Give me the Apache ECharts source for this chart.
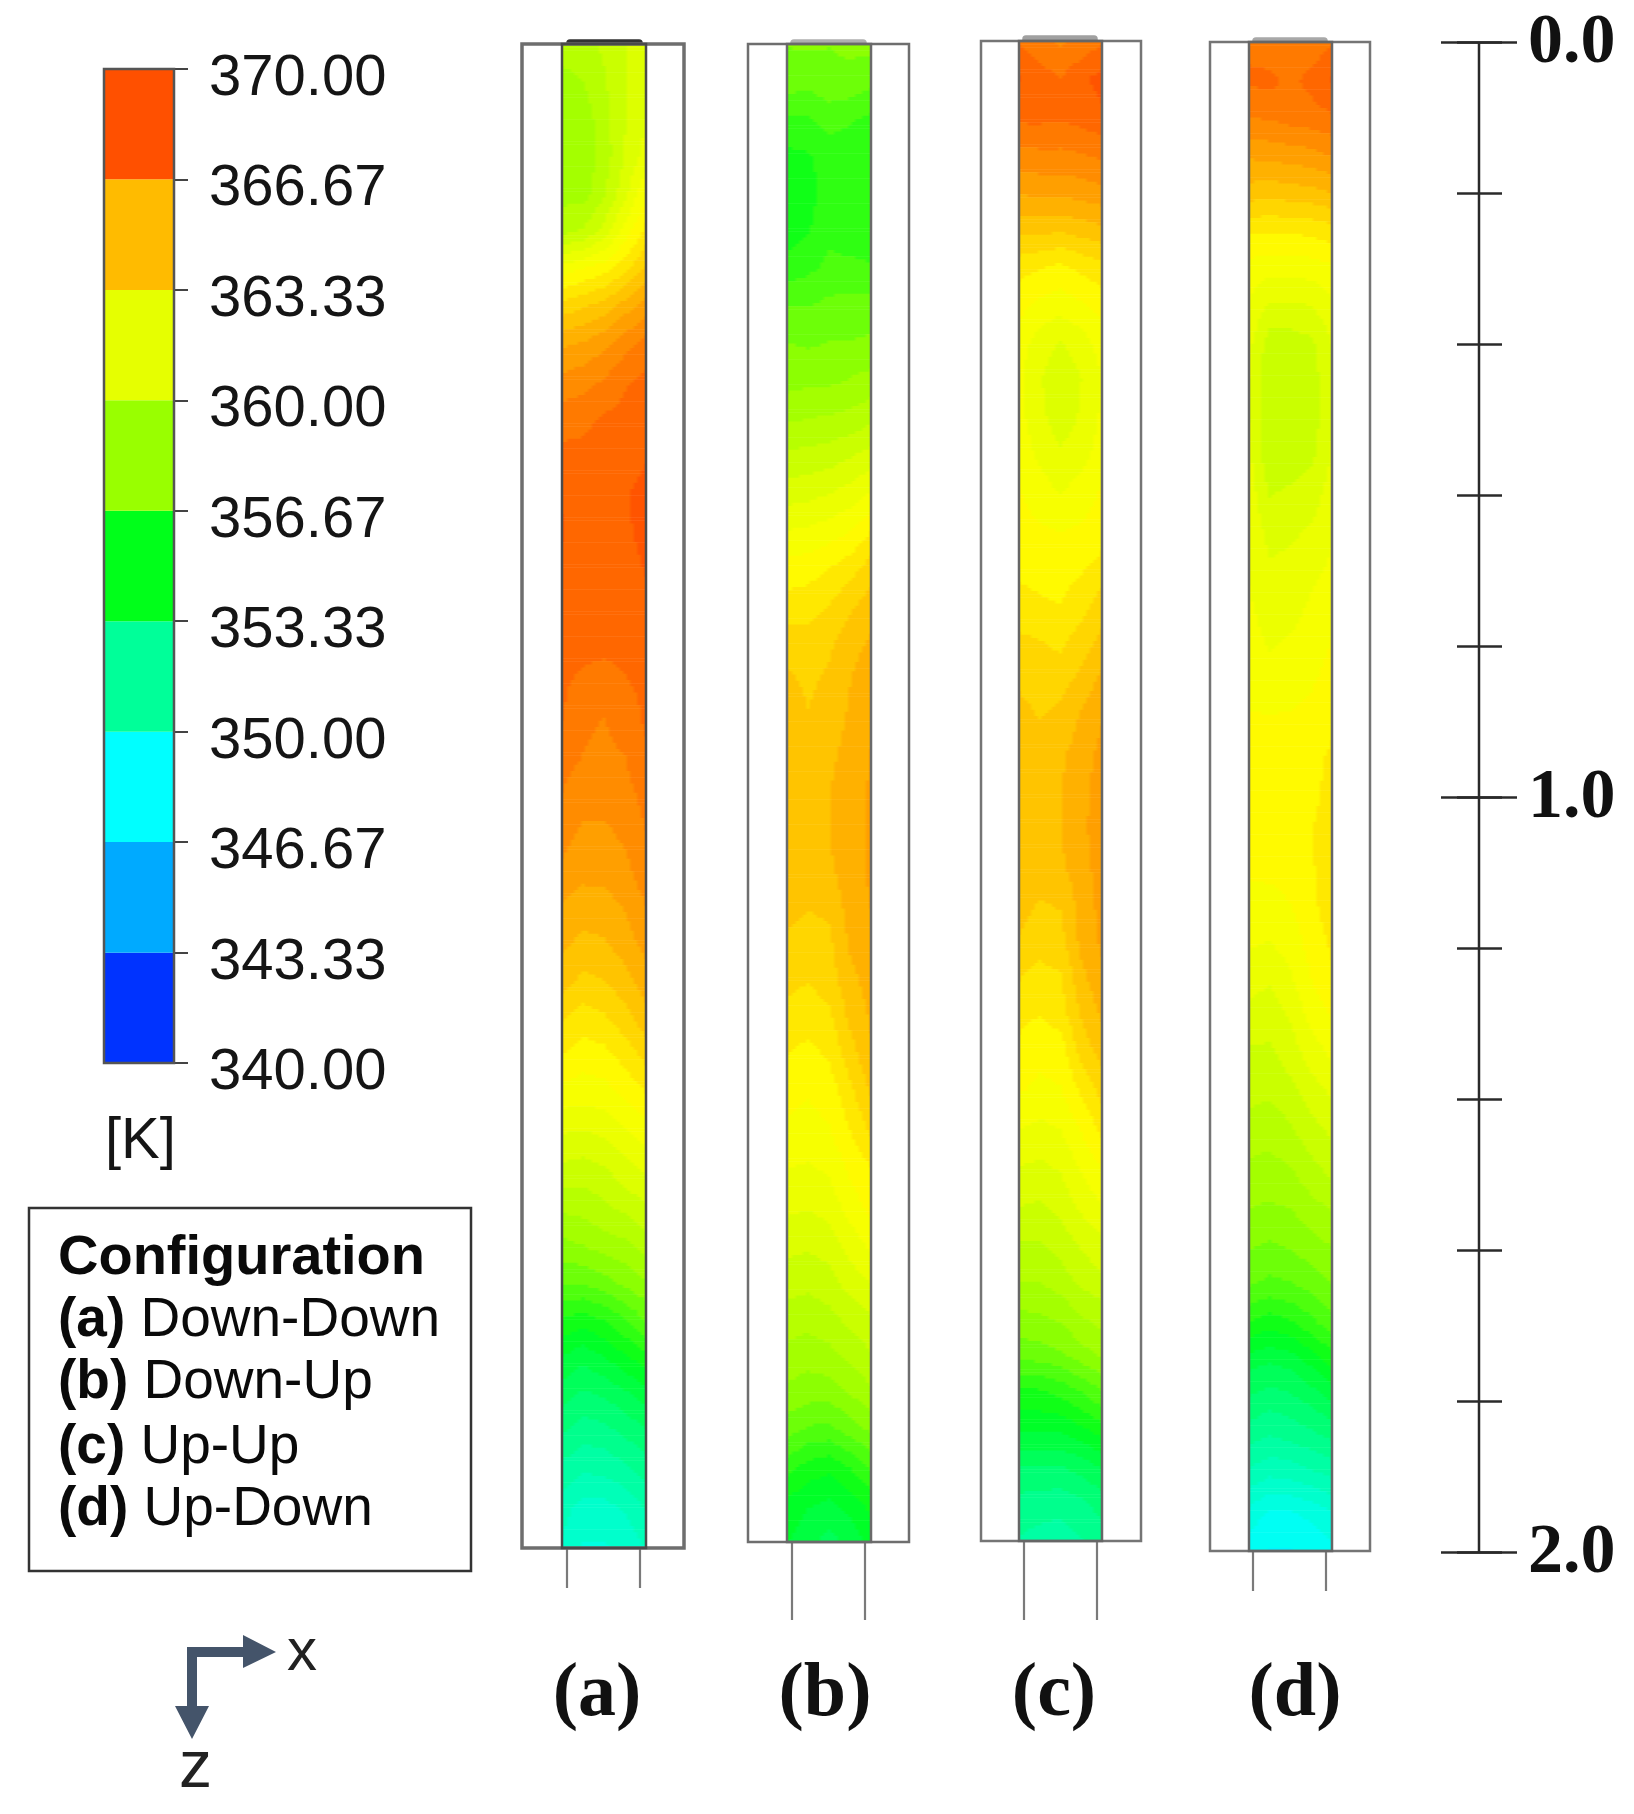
<!DOCTYPE html>
<html><head><meta charset="utf-8">
<style>html,body{margin:0;padding:0;background:#fff}#c{width:1634px;height:1814px}</style>
<script src="https://cdn.jsdelivr.net/npm/echarts@6/dist/echarts.min.js"></script>
</head><body><div id="c"></div>
<script>
// ---------- data ----------
const legendLevels = [340,343.33,346.67,350,353.33,356.67,360,363.33,366.67,370];
const legendColors = ['#0033ff','#00aaff','#00ffff','#00ff99','#00ff1a','#99ff00','#e6ff00','#ffbb00','#ff5000'];
const rampT = [340,345,348.3,351.7,355,358.3,361,362.5,365,368.3,370];
const rampC = ['#0033ff','#00aaff','#00ffff','#00ff99','#00ff1a','#99ff00','#e6ff00','#ffff00','#ffbb00','#ff5f00','#ff3000'];
const contourStep = 0.667;
const rowZ = [0,.05,.1,.15,.2,.25,.3,.35,.4,.45,.5,.55,.6,.65,.7,.75,.8,.85,.9,.95,1,1.05,1.1,1.15,1.2,1.25,1.3,1.35,1.4,1.45,1.5,1.55,1.6,1.65,1.7,1.75,1.8,1.85,1.9,1.95,2];
const columnX = [0,1,2,3,4];
const configKeys = ['(a)','(b)','(c)','(d)'];
const configNames = ['Down-Down','Down-Up','Up-Up','Up-Down'];
const scaleLabels = {0:'0.0',1:'1.0',2:'2.0'};

const panelA = [
[359.3,359.4,359.8,360.3,360.6],[358.8,359,359.6,360.3,360.8],[358.5,358.6,359.4,360.3,361],[358.5,358.5,359.3,360.4,361.3],
[358.8,358.7,359.6,360.8,362.3],[359.5,359.8,360.6,362,363.2],[362,362.4,362.8,363.5,364.5],[364,364.3,364.7,365.4,366],
[365.6,365.8,366.2,366.8,367.3],[366.6,366.8,367.1,367.6,367.9],[367.4,367.5,367.8,367.9,368],[367.9,367.9,367.9,368,368.3],
[368.3,367.9,367.9,368.3,368.6],[368.4,368,367.9,368.2,368.6],[368.2,367.9,367.9,368,368.4],[368,367.9,367.9,367.9,368.1],
[367.9,367.9,367.9,367.9,367.9],[367.8,367.5,367.3,367.6,367.9],[367.7,367.1,367,367.2,367.8],[367.2,367,366.9,367,367.5],
[367,366.7,366.6,366.8,367.2],[366.6,366.2,366.2,366.5,367],[366.2,365.9,365.9,366.1,366.8],[365.6,365.3,365.4,365.7,366.3],
[365.1,364.8,364.9,365.3,365.9],[364.6,364.1,364.3,364.7,365.3],[363.7,363.3,363.5,364,364.7],[362.9,362.6,362.7,363.2,363.8],
[362,361.9,362,362.4,362.9],[361,360.9,361.1,361.5,362],[360.1,360,360.2,360.7,361.1],[359.1,359.2,359.5,359.8,360.2],
[358.1,358.3,358.6,358.8,359.3],[357,357,357.3,357.8,358.2],[355.5,355.2,355.6,356.2,357],[354.2,353.8,354.2,354.8,355.3],
[353.2,352.8,353,353.4,353.9],[352.3,351.9,352,352.4,352.8],[351.4,351,351.1,351.4,351.9],[350.6,350,350,350.4,351],
[350.2,349.6,349.6,349.8,350.4]];
const panelB = [
[357.7,357.8,357.7,357.8,357.9],[357.4,357.2,357.5,357.5,357.2],[356.2,356.3,356.6,356.4,356.2],[355.5,355.6,356,356,356],
[355.2,355.4,356,355.9,355.8],[355.3,355.6,356.2,356,356],[356,356.2,356.5,356.5,356.4],[357,357,357.2,357.3,357.3],
[357.7,357.6,357.7,357.7,357.8],[358.1,358.2,358.2,358.4,358.6],[358.9,359,359.1,359.2,359.5],[359.8,359.9,360,360.3,360.6],
[360.7,360.8,361,361.3,361.7],[361.7,361.8,362,362.3,363],[362.6,362.7,363,363.4,364],[363.3,363.4,363.7,364.2,364.7],
[364,364,364.2,364.8,365.1],[364.5,364.2,364.5,365,365.4],[364.9,364.4,364.7,365.1,365.6],[365,364.8,364.9,365.2,365.7],
[365,364.9,365,365.3,365.8],[365,364.9,365,365.4,365.8],[364.9,364.8,364.9,365.4,365.8],[364.6,364.4,364.5,365.3,365.7],
[364.2,364,364.2,365.1,365.5],[363.9,363.7,364,364.8,365.3],[363.4,363.3,363.5,364.5,365.1],[363,362.8,363.1,364,364.9],
[362.6,362.4,362.6,363.5,364.4],[362.2,362.1,362.3,363,363.8],[361.7,361.6,361.8,362.5,363],[361.2,361.1,361.3,362,362.6],
[360.6,360.5,360.7,361.3,361.9],[360,359.9,360.1,360.7,361.1],[359.4,359.3,359.5,359.9,360.3],[358.8,358.6,358.8,359.2,359.6],
[358.2,358,358,358.4,358.9],[357.3,356.9,356.8,357.3,357.8],[356,355.4,355.2,355.7,356.4],[354.8,354.4,354.2,354.6,355.2],
[354.4,353.9,353.4,353.9,354.6]];
const panelC = [
[367.6,367.2,366.9,367.2,367.6],[368.4,368,367.7,368.2,368.6],[367.9,367.9,367.8,368,368.2],[366.8,366.9,366.9,367,367.2],
[365.8,365.9,365.9,366,366.2],[364.6,364.6,364.5,364.7,364.9],[363.3,363.1,362.9,363.2,363.5],[362.6,362.2,362,362.3,362.6],
[362,361.4,361,361.4,362],[361.8,361.1,360.4,361,361.7],[361.9,361.2,360.6,361.1,361.8],[362.1,361.5,361.1,361.4,362],
[362.4,362,361.6,362,362.4],[362.6,362.4,362.3,362.4,362.7],[362.8,362.7,362.7,362.9,363.2],[363.3,363.1,363,363.4,364],
[363.8,363.7,363.5,364,364.5],[364.2,364,364.1,364.5,365.2],[364.6,364.3,364.5,365.1,365.6],[364.8,364.8,364.9,365.3,365.9],
[364.9,364.9,365,365.4,366.1],[364.9,364.9,365,365.5,366.1],[364.9,364.9,364.9,365.4,366],[364.6,364.3,364.4,365.3,365.9],
[364.3,364,364.1,365.2,365.8],[363.7,363.4,363.6,364.8,365.5],[363.2,363,363.3,364.4,365.1],[362.8,362.5,362.6,363.9,364.6],
[362.4,362.2,362.3,363.1,363.9],[361.7,361.5,361.7,362.4,363.2],[361,360.9,361.1,361.8,362.4],[360.4,360.3,360.6,361.2,361.7],
[359.7,359.7,360,360.5,360.9],[359.1,359.1,359.4,359.9,360.2],[358.2,358.3,358.5,359,359.3],[357.3,357.4,357.6,358.1,358.5],
[355.6,355.6,355.9,356.4,357],[354.5,354.5,354.5,354.9,355.4],[353,353,353,353.3,353.8],[352.1,352,351.9,352.2,352.6],
[351.6,351.4,351.3,351.6,352]];
const panelD = [
[367.5,367.1,367,367.2,367.6],[367.8,367.9,367.5,367.9,368.4],[367,367.1,367.3,367.4,367.6],[365.8,365.9,366,366.1,366.4],
[364.7,364.6,364.7,364.8,365],[363.1,363.1,363.1,363.2,363.4],[362.1,361.9,361.9,362,362.2],[361.6,360.9,360.9,361,361.5],
[361.2,360,360,360.2,361],[361,359.7,359.7,360,360.9],[361,359.7,359.8,360,360.9],[361.2,359.8,359.9,360.2,361.1],
[361.4,360.3,360.5,360.7,361.3],[361.5,360.8,360.9,361.1,361.6],[361.6,361.1,361.2,361.5,361.8],[361.8,361.3,361.4,361.8,362.1],
[362,361.6,361.8,362,362.4],[362.2,362.1,362.2,362.3,362.6],[362.4,362.4,362.4,362.5,362.8],[362.5,362.5,362.5,362.7,363.2],
[362.5,362.5,362.6,362.8,363.3],[362.5,362.5,362.6,363,363.4],[362.4,362.5,362.6,362.9,363.5],[362.1,362,362.3,362.8,363.4],
[361.7,361.6,361.9,362.6,363.1],[361.2,361,361.5,362.3,362.8],[360.7,360.6,361,361.8,362.3],[360.1,360.1,360.6,361.2,361.7],
[359.8,359.7,360,360.6,361],[359.3,359.2,359.5,360,360.4],[358.8,358.7,358.9,359.4,359.8],[358.3,358.2,358.3,358.7,359],
[357.7,357.5,357.7,358,358.3],[357,356.8,356.9,357.2,357.6],[355.6,355.2,355.5,356.1,356.7],[353.9,353.7,353.9,354.5,355.2],
[352.9,352.6,352.8,353.2,353.7],[351.9,351.6,351.8,352.1,352.4],[350.8,350.4,350.5,350.8,351.1],[349.4,348.9,348.9,349.2,349.6],
[348.6,348.3,348.3,348.4,348.8]];

// ---------- layout ----------
const panels = [
 {rows:panelA, oL:522, oR:684, top:44, bot:1548, iL:562, iR:646, capL:567, capR:642, capT:40, pinL:567, pinR:640, pinB:1588, caption:597, edge:'#4a4a4a', box:'#6e6e6e', boxW:3.5, cap:'#333333'},
 {rows:panelB, oL:748, oR:909, top:44, bot:1542, iL:787, iR:871, capL:791, capR:866, capT:40, pinL:792, pinR:865, pinB:1620, caption:825, edge:'#6a6a6a', box:'#6e6e6e', boxW:2.5, cap:'#b0b0b0'},
 {rows:panelC, oL:981, oR:1141, top:41, bot:1541, iL:1019, iR:1102, capL:1023, capR:1097, capT:36, pinL:1024, pinR:1097, pinB:1620, caption:1054, edge:'#666666', box:'#757575', boxW:2.5, cap:'#a0a0a0'},
 {rows:panelD, oL:1210, oR:1370, top:42, bot:1551, iL:1249, iR:1332, capL:1253, capR:1327, capT:38, pinL:1253, pinR:1326, pinB:1591, caption:1295, edge:'#666666', box:'#757575', boxW:2.5, cap:'#a8a8a8'}
];

function tempColor(t){
  if(t<=rampT[0]) return rampC[0];
  for(let i=1;i<rampT.length;i++){
    if(t<=rampT[i]) return echarts.color.lerp((t-rampT[i-1])/(rampT[i]-rampT[i-1]),[rampC[i-1],rampC[i]]);
  }
  return rampC[rampC.length-1];
}
function contour(t){return 340+Math.round((t-340)/contourStep)*contourStep;}
// paints the cells of one panel as contour bands; blending between the read rows is done only while painting
function fieldRenderer(rows){
  return function(params,api){
    const i=params.dataIndex;
    if(i>=rows.length-1) return {type:'group',children:[]};
    const a=rows[i], b=rows[i+1], z0=rowZ[i], z1=rowZ[i+1], N=12, M=6, children=[];
    const x0=api.coord([columnX[0],z0])[0], x1=api.coord([columnX[4],z0])[0];
    for(let s=0;s<N;s++){
      const f=(s+.5)/N;
      const y0=api.coord([0,z0+(z1-z0)*s/N])[1], y1=api.coord([0,z0+(z1-z0)*(s+1)/N])[1];
      const stops=[];
      for(let c=0;c<4;c++){
        for(let k=0;k<(c===3?M+1:M);k++){
          const g=k/M, l=a[c]+(b[c]-a[c])*f, r=a[c+1]+(b[c+1]-a[c+1])*f;
          stops.push({offset:(c+g)/4,color:tempColor(contour(l+(r-l)*g))});
        }
      }
      children.push({type:'rect',shape:{x:x0,y:y0,width:x1-x0,height:y1-y0+0.6},
        style:{fill:new echarts.graphic.LinearGradient(0,0,1,0,stops)},silent:true});
    }
    return {type:'group',children};
  };
}

const grids=[], xAxes=[], yAxes=[], series=[], gfx=[];
function addAxes(grid,x,y){grids.push(grid);const k=grids.length-1;xAxes.push(Object.assign({gridIndex:k,show:false},x));yAxes.push(Object.assign({gridIndex:k},y));return k;}

// colour bar: bands
const cb=addAxes({left:104,top:69,width:70,height:994},{type:'value',min:0,max:1},{
  type:'value',min:340,max:370,show:false
});
// colour bar: ticks to the right of the bar
addAxes({left:174,top:69,width:14,height:994},{type:'value',min:0,max:1},{
  type:'value',min:340,max:370,interval:30/9,
  axisLine:{show:false},axisTick:{show:false},axisLabel:{show:false},
  splitLine:{show:true,lineStyle:{color:'#444',width:2}}
});
// colour bar labels sit slightly below their ticks in the reference
addAxes({left:104,top:79,width:70,height:994},{type:'value',min:0,max:1},{
  type:'value',min:340,max:370,position:'right',
  axisLine:{show:false},splitLine:{show:false},axisTick:{show:false},
  axisLabel:{show:true,customValues:legendLevels,formatter:v=>v.toFixed(2),margin:35,fontFamily:'Liberation Sans',fontSize:58,color:'#151515'}
});
series.push({type:'custom',xAxisIndex:cb,yAxisIndex:cb,silent:true,
  data:legendColors.map((c,i)=>[legendLevels[i],legendLevels[i+1]]),
  renderItem:(p,api)=>{
    const a=api.coord([0,api.value(1)]), b=api.coord([1,api.value(0)]);
    return {type:'rect',shape:{x:a[0],y:a[1],width:b[0]-a[0],height:b[1]-a[1]},style:{fill:legendColors[p.dataIndex]}};
  }});
gfx.push({type:'rect',z:10,shape:{x:104,y:69,width:70,height:994},style:{fill:'none',stroke:'#555',lineWidth:2.5}});

// panels
panels.forEach((p,n)=>{
  const k=addAxes({left:p.iL,top:p.top,width:p.iR-p.iL,height:p.bot-p.top},{type:'value',min:0,max:4},
    {type:'value',min:0,max:2,inverse:true,show:false});
  series.push({type:'custom',xAxisIndex:k,yAxisIndex:k,silent:true,clip:true,
    data:p.rows.map((r,i)=>[rowZ[i]].concat(r)),renderItem:fieldRenderer(p.rows)});
  gfx.push(
    {type:'rect',z:10,shape:{x:p.oL,y:p.top,width:p.oR-p.oL,height:p.bot-p.top},style:{fill:'none',stroke:p.box,lineWidth:p.boxW}},
    {type:'rect',z:11,shape:{x:p.iL,y:p.top,width:p.iR-p.iL,height:p.bot-p.top},style:{fill:'none',stroke:p.edge,lineWidth:2.5}},
    {type:'rect',z:9,shape:{x:p.capL,y:p.capT,width:p.capR-p.capL,height:p.top-p.capT,r:[3,3,0,0]},style:{fill:p.cap,stroke:p.cap,lineWidth:1.5}},
    {type:'line',z:9,shape:{x1:p.pinL,y1:p.bot,x2:p.pinL,y2:p.pinB},style:{stroke:'#7a7a7a',lineWidth:2.2}},
    {type:'line',z:9,shape:{x1:p.pinR,y1:p.bot,x2:p.pinR,y2:p.pinB},style:{stroke:'#7a7a7a',lineWidth:2.2}},
    {type:'text',z:12,x:p.caption,y:1695,style:{text:configKeys[n],font:'bold 76px "Liberation Serif"',fill:'#111',align:'center',verticalAlign:'middle'}}
  );
});

// length scale: long ticks, short ticks, spine, labels
const major=addAxes({left:1441,top:42,width:76,height:1510},{type:'value',min:-1,max:1},{
  type:'value',min:0,max:2,interval:1,inverse:true,
  axisLine:{show:false},axisTick:{show:false},axisLabel:{show:false},
  splitLine:{show:true,lineStyle:{color:'#2a2a2a',width:2.5}}
});
addAxes({left:1441,top:44,width:76,height:1510},{type:'value',min:-1,max:1},{
  type:'value',min:0,max:2,interval:1,inverse:true,position:'right',
  axisLine:{show:false},axisTick:{show:false},splitLine:{show:false},
  axisLabel:{show:true,formatter:v=>scaleLabels[v],margin:11,fontFamily:'Liberation Serif',fontWeight:'bold',fontSize:70,color:'#111'}
});
addAxes({left:1457,top:42,width:45,height:1510},{type:'value',min:-1,max:1},{
  type:'value',min:0,max:2,interval:.2,inverse:true,
  axisLine:{show:false},axisTick:{show:false},axisLabel:{show:false},
  splitLine:{show:true,lineStyle:{color:'#2a2a2a',width:2.5}}
});
series.push({type:'line',xAxisIndex:major,yAxisIndex:major,silent:true,symbol:'none',clip:false,
  data:[[0,0],[0,2]],lineStyle:{color:'#2a2a2a',width:2.5}});

// legend box
gfx.push({type:'rect',z:5,shape:{x:29,y:1208,width:442,height:363},style:{fill:'#fff',stroke:'#333',lineWidth:2.5}});
gfx.push({type:'text',z:6,x:58,y:1259,style:{text:'Configuration',font:'bold 56px "Liberation Sans"',fill:'#0a0a0a',verticalAlign:'middle'}});
[1321,1383,1448,1510].forEach((y,i)=>{
  gfx.push({type:'text',z:6,x:58,y,style:{
    text:'{b|'+configKeys[i]+'} '+configNames[i],
    font:'55px "Liberation Sans"',fill:'#0a0a0a',verticalAlign:'middle',
    rich:{b:{font:'bold 55px "Liberation Sans"',fill:'#0a0a0a'}}}});
});
gfx.push({type:'text',z:6,x:105,y:1142,style:{text:'[K]',font:'58px "Liberation Sans"',fill:'#151515',verticalAlign:'middle'}});

// axis arrows
const arrow='#44546a';
gfx.push({type:'polygon',z:6,shape:{points:[[187,1647],[243,1647],[243,1635],[276,1652],[243,1668],[243,1657],[197,1657],[197,1706],[209,1706],[192,1739],[175,1706],[187,1706]]},style:{fill:arrow}});
gfx.push({type:'text',z:6,x:287,y:1653,style:{text:'x',font:'60px "Liberation Sans"',fill:'#222',verticalAlign:'middle'}});
gfx.push({type:'text',z:6,x:179,y:1769,style:{text:'z',font:'66px "Liberation Sans"',fill:'#222',verticalAlign:'middle'}});

const chart=echarts.init(document.getElementById('c'),null,{renderer:'canvas'});
chart.setOption({animation:false,backgroundColor:'#fff',grid:grids,xAxis:xAxes,yAxis:yAxes,series,graphic:{elements:gfx},tooltip:{show:false},legend:{show:false}});
</script></body></html>
